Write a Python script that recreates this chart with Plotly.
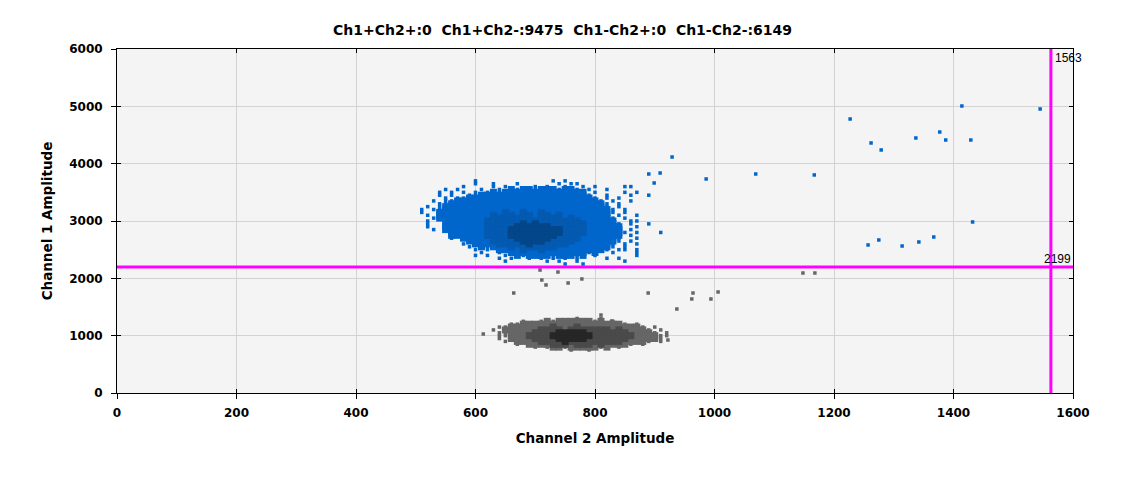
#!/usr/bin/env python3
"""
Two-channel droplet amplitude scatter (Ch2 vs Ch1) with threshold lines.
The two droplet clusters are kept as coarse density maps read off the original plot.
"""

import plotly.graph_objects as go

TITLE = "Ch1+Ch2+:0  Ch1+Ch2-:9475  Ch1-Ch2+:0  Ch1-Ch2-:6149"
X_LABEL = "Channel 2 Amplitude"
Y_LABEL = "Channel 1 Amplitude"

X_TICKS = [0, 200, 400, 600, 800, 1000, 1200, 1400, 1600]
Y_TICKS = [0, 1000, 2000, 3000, 4000, 5000, 6000]

CH2_THRESHOLD = 1563
CH1_THRESHOLD = 2199

# density maps: one column per 10 units of Ch2, one row per 50 units of Ch1
# ' ' nothing, '.' single droplet, 'o' dense, 'd' denser, 'D' densest
CELL_W = 10
CELL_H = 50

# Ch1+ / Ch2- cluster, first column at Ch2=510, first row at Ch1=3700
BLUE_X0 = 510
BLUE_Y0 = 3700
BLUE_MAP = [
    "         .            . .",
    "         .  .   .      . ..",
    "       .    . .    . .  .  . .    ..",
    "    . .   .  . o.oo.ooo.oo. .  .",
    "   . . . . .o.oooooooooooooo .    . .",
    "   . .  ..oooooooooooooooooo.  .   .  .",
    "    . ..ooooooooooooooooooooo. . .",
    "  . ..oooooooooooooooooooooooo. .  .",
    "   ..oooooooooooooooooooooooooo. .",
    " . .ooooooooooooooooooooooooooo. .",
    ". ..oooooooooooooooooooooooooooo. .",
    ".  ooooooooooodoodoodooooooooooo. .",
    " . ooooooooododdoddoddodoooooooo .  .",
    "  .ooooooooo" + "ddoddddoddddod" + "oooooo" + ". .",
    " .  .oooooo" + "dddddddddddddddd" + "oooooo" + "  ..",
    " .  ooooooo" + "ddddddDdDdddddddd" + "ooooo" + ". .  .",
    " .  ooooooo" + "dddddDDDDDDdddddd" + "oooooo" + "  .",
    "  . ooooooo" + "ddddDDDDDDDDDdddd" + "oooooo" + " .",
    "     oooooo" + "ddddDDDDDDDDDdddd" + "oooooo" + ". .   .",
    "     oooooo" + "ddddDDDDDDDDdddd" + "ooooooo" + " .",
    "     . ooooo" + "ddddDDDDDDddddd" + "oooooo" + ".  .",
    "        oooo" + "dddddDDDDddddd" + "ooooooo" + ". .",
    "       . oooo" + "dddddDdddddd" + "ooooooo" + ". . .",
    "        . o.ooo" + "dodddodd" + "ooooooooo" + ". .",
    "         . . " + "oooodoodoooooooooo" + ". .. .",
    "          .  . " + "ooooooooooooo" + ".o" + "  .   .",
    "         . .  . " + "o.oooo.ooo.o" + " ." + "      .",
    "             . .  . . . . .    . .",
    "              .      . .  .       .",
    "                        .  .",
]

# Ch1- / Ch2- cluster, first column at Ch2=630, first row at Ch1=1300
GRAY_X0 = 630
GRAY_Y0 = 1300
GRAY_MAP = [
    "              .   .",
    "     .  .o.oooooo.o .",
    "   ..ooooooooooooooooo. .",
    " ..ooooooodooodoooooooooo. .",
    ". oooooo" + "ddddodddddddod" + "oooo" + ". .",
    " ..oooo" + "ddddDDDDDddddddd" + "oooo" + ". .",
    " ..ooo" + "ddddDDDDDDDddddddd" + "oooo" + "..",
    " . oooo" + "ddddDDDDDddddddd" + "ooooo" + ".",
    "  . oooo" + "ddddDddddddddd" + "oooo" + ". .",
    "    . oooo" + "dddodddod" + "oooo" + ". .",
    "       . .oo.ooooo.o .",
    "             .  .",
]

# stray droplets outside the two maps
BLUE_OUT_X = [929, 890, 909, 899, 986, 1069, 1167, 1227, 1262, 1279, 1337,
              1377, 1387, 1414, 1429, 1545, 1432, 1257, 1275, 1314, 1342, 1367]
BLUE_OUT_Y = [4116, 3820, 3837, 3663, 3733, 3820, 3803, 4779, 4361, 4239, 4448,
              4552, 4413, 5006, 4413, 4954, 2983, 2582, 2669, 2564, 2634, 2721]
GRAY_OUT_X = [613, 922, 810, 828, 937, 664, 889, 964, 962, 994, 1006,
              708, 738, 711, 718, 755, 778, 1148, 1168]
GRAY_OUT_Y = [1029, 924, 1360, 1256, 1465, 1744, 1744, 1744, 1640, 1640, 1762,
              2145, 2110, 1971, 1884, 1919, 1989, 2093, 2093]

BLUE_SHADES = {'.': '#0066cc', 'o': '#0066cc', 'd': '#0459b0', 'D': '#03468a'}
GRAY_SHADES = {'.': '#666666', 'o': '#666666', 'd': '#4a4a4a', 'D': '#262626'}
MARK_SIZE = {'.': 3.5, 'o': 7, 'd': 7, 'D': 7}

# the page body adds an 8px margin, so the figure is drawn 8px smaller
PAGE_PAD = 8


def map_cells(density_map, x0, y0, level):
    """Return the Ch2/Ch1 amplitudes of every cell in the map marked with level."""
    xs, ys = [], []
    for r, row in enumerate(density_map):
        for c, ch in enumerate(row):
            if ch == level:
                xs.append(x0 + c * CELL_W)
                ys.append(y0 - r * CELL_H)
    return xs, ys


def add_cluster(fig, density_map, x0, y0, shades):
    for level in ['.', 'o', 'd', 'D']:
        xs, ys = map_cells(density_map, x0, y0, level)
        fig.add_trace(go.Scatter(
            x=xs, y=ys, mode='markers',
            marker=dict(symbol='square', size=MARK_SIZE[level],
                        color=shades[level], line=dict(width=0)),
            showlegend=False, hoverinfo='skip'
        ))


def build_figure():
    fig = go.Figure()

    add_cluster(fig, GRAY_MAP, GRAY_X0, GRAY_Y0, GRAY_SHADES)
    add_cluster(fig, BLUE_MAP, BLUE_X0, BLUE_Y0, BLUE_SHADES)

    for xs, ys, color in [(GRAY_OUT_X, GRAY_OUT_Y, '#666666'),
                          (BLUE_OUT_X, BLUE_OUT_Y, '#0066cc')]:
        fig.add_trace(go.Scatter(
            x=xs, y=ys, mode='markers',
            marker=dict(symbol='square', size=3.5, color=color, line=dict(width=0)),
            showlegend=False, hoverinfo='skip'
        ))

    # empty trace so the overlay axes (inner tick marks) get drawn
    fig.add_trace(go.Scatter(x=[], y=[], xaxis='x2', yaxis='y2', showlegend=False))

    tick_font = dict(family='DejaVu Sans', size=12, color='black', weight='bold')
    title_font = dict(family='DejaVu Sans', size=13.5, color='black', weight='bold')

    height = 478 - PAGE_PAD
    fig.update_layout(
        width=1125 - PAGE_PAD,
        height=height,
        margin=dict(l=117 - PAGE_PAD, r=52, t=49 - PAGE_PAD, b=85),
        paper_bgcolor='white',
        plot_bgcolor='#f4f4f4',
        showlegend=False,
        title=dict(
            text=TITLE, x=(562.5 - PAGE_PAD) / (1125 - PAGE_PAD), xref='container',
            xanchor='center',
            y=1 - (30 - PAGE_PAD) / height, yref='container', yanchor='middle',
            font=dict(family='DejaVu Sans', size=14, color='black', weight='bold')
        ),
        xaxis=dict(
            range=[0, 1600], tickmode='array', tickvals=X_TICKS,
            showline=True, linecolor='black', linewidth=1, mirror=True,
            ticks='outside', ticklen=5, tickcolor='black',
            showgrid=True, gridcolor='#d3d3d3', gridwidth=1, zeroline=False,
            tickfont=tick_font, ticklabelstandoff=4,
            title=dict(text=X_LABEL, font=title_font, standoff=14)
        ),
        yaxis=dict(
            range=[0, 6000], tickmode='array', tickvals=Y_TICKS,
            showline=True, linecolor='black', linewidth=1, mirror=True,
            ticks='outside', ticklen=5, tickcolor='black',
            showgrid=True, gridcolor='#d3d3d3', gridwidth=1, zeroline=False,
            tickfont=tick_font, ticklabelstandoff=6,
            title=dict(text=Y_LABEL, font=title_font, standoff=13)
        ),
        xaxis2=dict(
            overlaying='x', anchor='y2', range=[0, 1600], tickmode='array',
            tickvals=X_TICKS, ticks='inside', ticklen=4, tickcolor='black',
            mirror='ticks', showline=True, linecolor='black',
            showgrid=False, zeroline=False, showticklabels=False
        ),
        yaxis2=dict(
            overlaying='y', anchor='x2', range=[0, 6000], tickmode='array',
            tickvals=Y_TICKS, ticks='inside', ticklen=4, tickcolor='black',
            mirror='ticks', showline=True, linecolor='black',
            showgrid=False, zeroline=False, showticklabels=False
        ),
    )

    # threshold lines
    fig.add_shape(type='line', xref='x', yref='paper',
                  x0=CH2_THRESHOLD, x1=CH2_THRESHOLD, y0=0, y1=1,
                  line=dict(color='#ff00ff', width=3))
    fig.add_shape(type='line', xref='paper', yref='y',
                  x0=0, x1=1, y0=CH1_THRESHOLD, y1=CH1_THRESHOLD,
                  line=dict(color='#ff00ff', width=3))

    label_font = dict(family='Liberation Sans', size=12, color='black')
    fig.add_annotation(x=CH2_THRESHOLD, xref='x', y=1, yref='paper',
                       text=str(CH2_THRESHOLD), showarrow=False,
                       xanchor='left', yanchor='top', xshift=2, font=label_font)
    fig.add_annotation(x=1, xref='paper', y=CH1_THRESHOLD, yref='y',
                       text=str(CH1_THRESHOLD), showarrow=False,
                       xanchor='right', yanchor='bottom', yshift=-1, font=label_font)

    return fig


def main():
    fig = build_figure()
    fig.write_html("out.html")


if __name__ == "__main__":
    main()
